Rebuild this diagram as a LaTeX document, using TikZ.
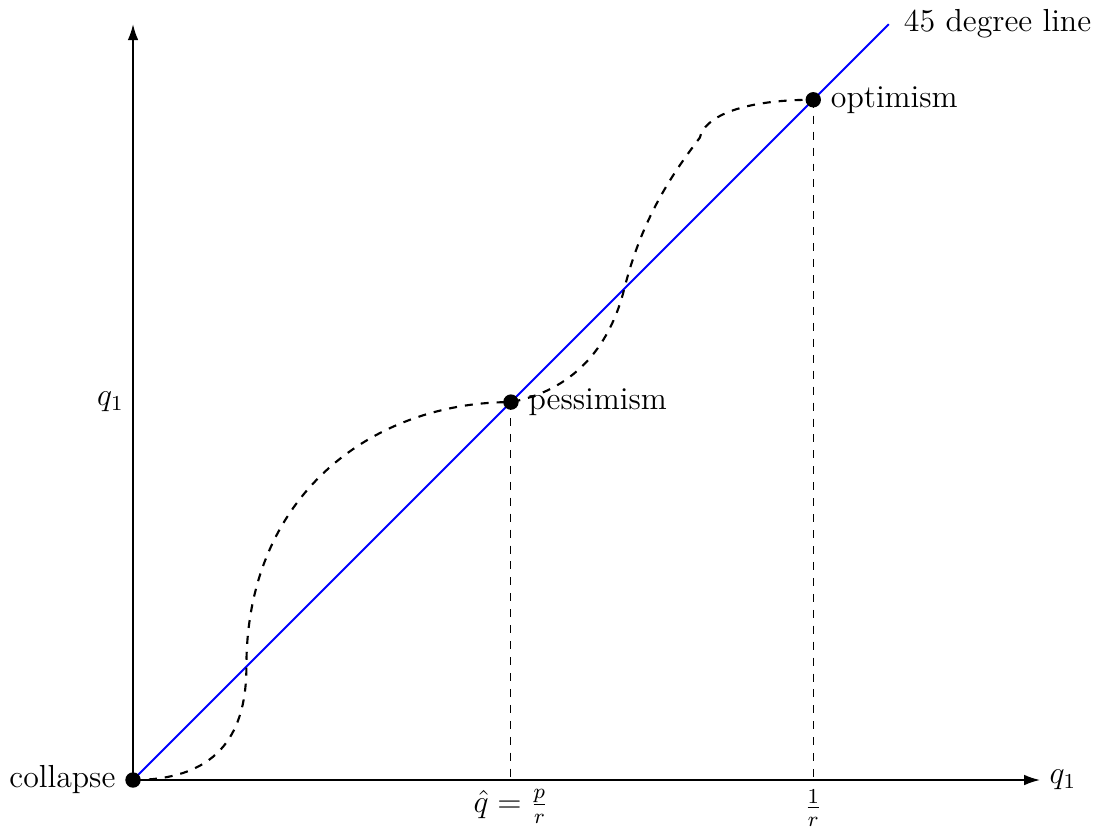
\documentclass[tikz,border=0pt]{standalone}
\usepackage{amsmath,amssymb}
\usepackage{tikz}
\usetikzlibrary{arrows.meta, positioning, calc}

\begin{document}
\begin{tikzpicture}[
            font=\large,
            >={Latex[length=6pt,width=4pt]},
            axis/.style    ={->, semithick, draw=black},
            diag/.style    ={line width=0.7pt, draw=blue},
            mapcurve/.style={thick, dashed, draw=black},
            drop/.style    ={thin, dashed, draw=black},
            eqpt/.style    ={circle, fill=black, inner sep=0pt, minimum size=5.8pt},
            x=1cm, y=1cm
        ]
        \useasboundingbox (-1.76,-0.70) rectangle (12.86,10.32);

        \coordinate (O)    at (0,0);
        \coordinate (pess) at (5,5);
        \coordinate (opt)  at (9,9);
        \coordinate (xend) at (12,0);
        \coordinate (yend) at (0,10);
        \coordinate (dend) at (10,10);

        % axes
        \draw[axis] (O) -- (xend) node[right] {$q_1$};
        \draw[axis] (O) -- (yend);
        \node[anchor=east] at (0,5) {$q_1$};

        \draw[diag] (O) -- (dend) node[right, xshift=2pt] {45 degree line};

        % the map q_1 -> q_2
        \draw[mapcurve] (O) .. controls (1.2,0) and (1.5,0.7) .. (1.5,1.5)
              .. controls (1.5,3.8) and (3.2,5) .. (pess)
              .. controls (5.8,5.15) and (6.3,5.7) .. (6.5,6.5)
              .. controls (6.75,7.5) and (7.2,8.1) .. (7.5,8.5)
              .. controls (7.55,8.75) and (8.0,9) .. (opt);

        \draw[drop] (pess) -- (pess |- O) node[below] {$\hat{q}=\frac{p}{r}$};
        \draw[drop] (opt) -- (opt |- O) node[below] {$\frac{1}{r}$};

        \node[eqpt, label=left:collapse]   (collapse)  at (O)    {};
        \node[eqpt, label=right:pessimism] (pessimism) at (pess) {};
        \node[eqpt, label=right:optimism]  (optimism)  at (opt)  {};

    \end{tikzpicture}
\end{document}
